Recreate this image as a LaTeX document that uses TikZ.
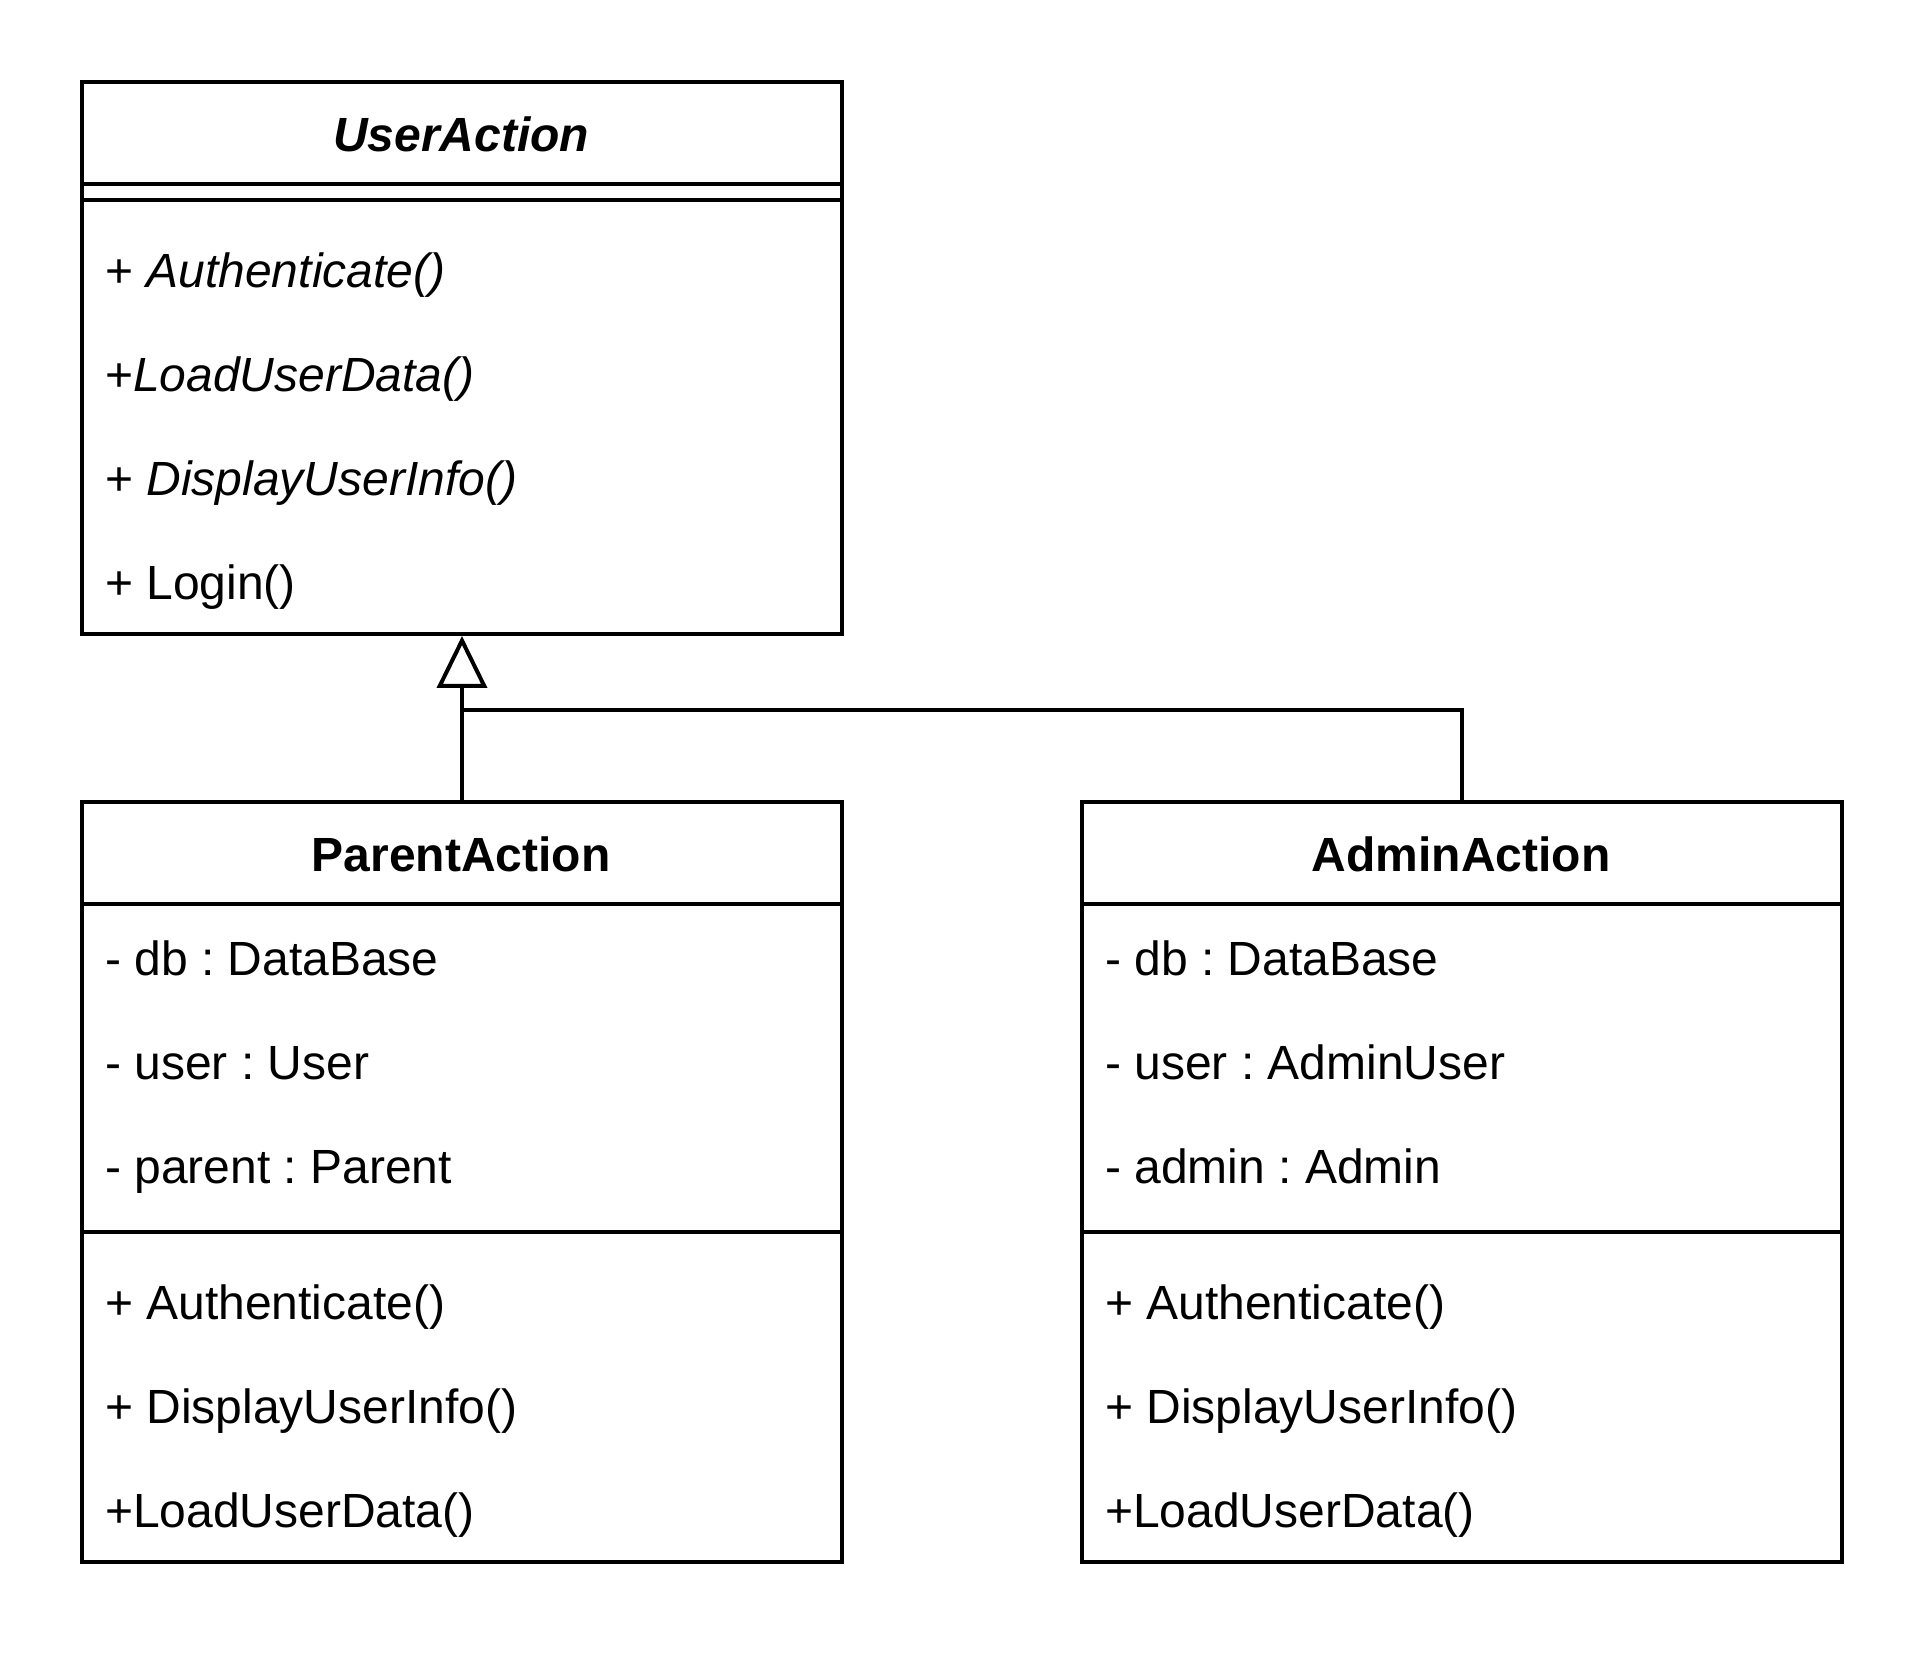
\documentclass[tikz,border=0pt]{standalone}
\usepackage{fontspec}
\setmainfont{Liberation Sans}
\usetikzlibrary{arrows.meta}
\frenchspacing

\begin{document}
\begin{tikzpicture}[x=1pt,y=1pt,yscale=-1,xscale=1,
  every node/.style={font=\fontsize{12pt}{14pt}\selectfont},
  classbox/.style={draw, line width=1pt, inner sep=0pt, anchor=north west, minimum width=190pt},
  member/.style={anchor=base west, inner sep=0pt},
  classname/.style={anchor=base, inner sep=0pt, font=\fontsize{12pt}{14pt}\selectfont\bfseries}]
\useasboundingbox (0,0) rectangle (480,417);

%Shape: Class [id:UserAction]
\node (user) [classbox, minimum height=138pt] at (20,20) {};
\draw [line width=1pt]  (20,46) -- (210,46) ;
\draw [line width=1pt]  (20,50) -- (210,50) ;
%Shape: Class [id:ParentAction]
\node (parent) [classbox, minimum height=190pt] at (20,200) {};
\draw [line width=1pt]  (20,226) -- (210,226) ;
\draw [line width=1pt]  (20,308) -- (210,308) ;
%Shape: Class [id:AdminAction]
\node (admin) [classbox, minimum height=190pt] at (270,200) {};
\draw [line width=1pt]  (270,226) -- (460,226) ;
\draw [line width=1pt]  (270,308) -- (460,308) ;

%Connector Lines [id:Generalization]
\coordinate (join) at (115,177.5) ;
\draw [line width=1pt]  (admin.north) |- (join) ;
\draw [line width=1pt, -{Triangle[open, length=13pt, width=12.5pt]}]  (parent.north) -- (user.south) ;

% Text Node
\node (userT) [classname] at (115.3,37.9) {\textit{UserAction}};
\node (userM1) [member] at (26.1,71.9) {+ \textit{Authenticate()}};
\node (userM2) [member] at (26.1,97.9) {+\textit{LoadUserData()}};
\node (userM3) [member] at (26.1,123.9) {+ \textit{DisplayUserInfo()}};
\node (userM4) [member] at (26.1,149.9) {+ Login()};

% Text Node
\node (parentT) [classname] at (115.3,217.9) {ParentAction};
\node (parentA1) [member] at (26.1,243.9) {- db : DataBase};
\node (parentA2) [member] at (26.1,269.9) {- user : User};
\node (parentA3) [member] at (26.1,295.9) {- parent : Parent};
\node (parentM1) [member] at (26.1,329.9) {+ Authenticate()};
\node (parentM2) [member] at (26.1,355.9) {+ DisplayUserInfo()};
\node (parentM3) [member] at (26.1,381.9) {+LoadUserData()};

% Text Node
\node (adminT) [classname] at (365.3,217.9) {AdminAction};
\node (adminA1) [member] at (276.1,243.9) {- db : DataBase};
\node (adminA2) [member] at (276.1,269.9) {- user : AdminUser};
\node (adminA3) [member] at (276.1,295.9) {- admin : Admin};
\node (adminM1) [member] at (276.1,329.9) {+ Authenticate()};
\node (adminM2) [member] at (276.1,355.9) {+ DisplayUserInfo()};
\node (adminM3) [member] at (276.1,381.9) {+LoadUserData()};

\end{tikzpicture}
\end{document}
